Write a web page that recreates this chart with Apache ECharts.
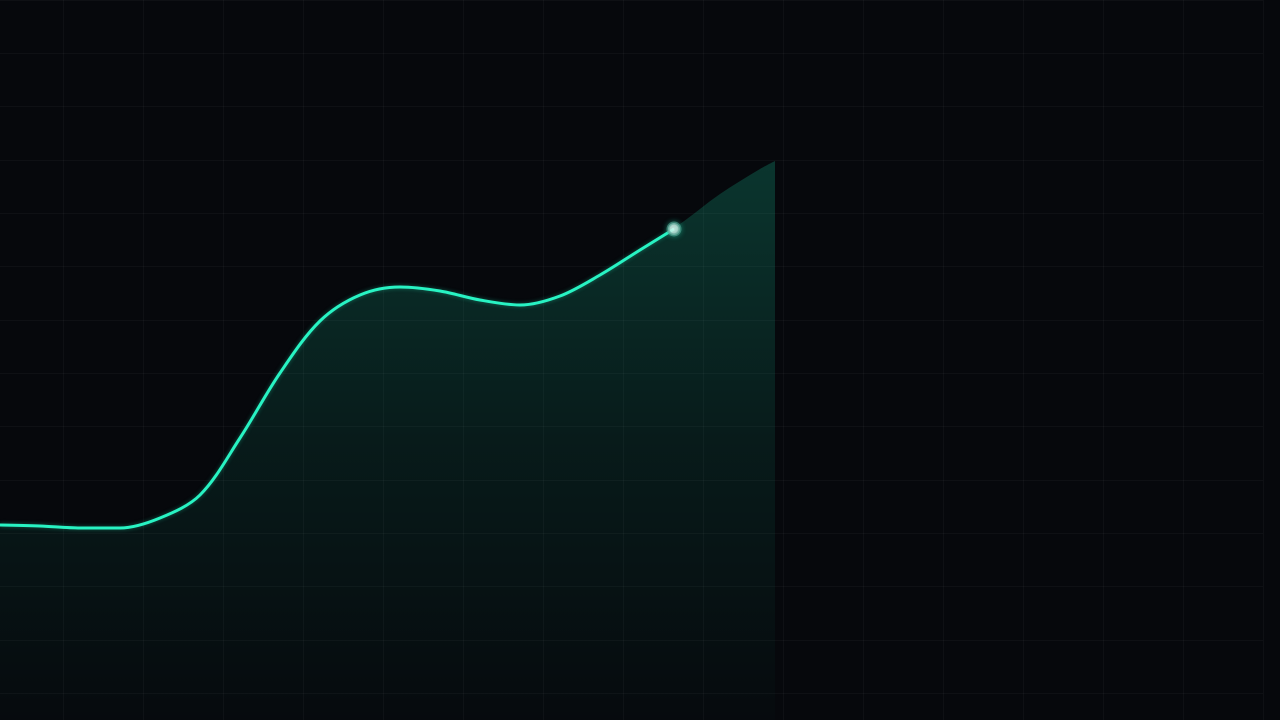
<!DOCTYPE html>
<html>
<head>
<meta charset="utf-8">
<script src="https://cdn.jsdelivr.net/npm/echarts@6/dist/echarts.min.js"></script>
<style>
html,body{margin:0;padding:0;background:#06080c;overflow:hidden;width:1280px;height:720px;}
#chart{position:absolute;left:-17px;top:0;width:1297px;height:747px;}
</style>
</head>
<body>
<div id="chart"></div>
<script>
// Curve samples (x in tenths of the time span, y in value units)
const xValues = [0, 4, 8, 12, 16, 20, 24, 28, 32, 36, 40, 44, 48, 52, 56, 60, 64, 68, 72, 76, 77.5];
const yValues = [19.5, 19.4, 19.2, 19.2, 20.2, 22.5, 28.2, 34.7, 39.9, 42.5, 43.3, 42.9, 42.0, 41.5, 42.4, 44.5, 47.0, 49.6, 52.6, 55.1, 55.9];
// head of the drawn line
const headX = 67.4;
const headY = 49.1;

const areaData = xValues.map((x, i) => [x, yValues[i]]);
const lineData = areaData.filter(p => p[0] < headX).concat([[headX, headY]]);
const headPoint = [[headX, headY]];

const chart = echarts.init(document.getElementById('chart'), null, {renderer: 'canvas', devicePixelRatio: 2});
const hidden = {show: false};
const gridLine = {show: true, lineStyle: {color: 'rgba(255,255,255,0.035)', width: 1}};
chart.setOption({
  animation: false,
  backgroundColor: '#06080c',
  grid: [
    {left: 0, top: 0, width: 1280, height: 746.67, containLabel: false},
    {left: 17, top: 0, width: 1280, height: 720, containLabel: false}
  ],
  xAxis: [
    {type: 'value', gridIndex: 0, min: 0, max: 16, interval: 1,
     axisLine: hidden, axisTick: hidden, axisLabel: hidden, splitLine: gridLine},
    {type: 'value', gridIndex: 1, min: 0, max: 128,
     axisLine: hidden, axisTick: hidden, axisLabel: hidden, splitLine: hidden}
  ],
  yAxis: [
    {type: 'value', gridIndex: 0, min: 0, max: 14, interval: 1,
     axisLine: hidden, axisTick: hidden, axisLabel: hidden, splitLine: gridLine},
    {type: 'value', gridIndex: 1, min: 0, max: 72,
     axisLine: hidden, axisTick: hidden, axisLabel: hidden, splitLine: hidden}
  ],
  series: [
    {
      type: 'line', xAxisIndex: 1, yAxisIndex: 1,
      data: areaData, smooth: 0.33, symbol: 'none',
      lineStyle: {width: 0, opacity: 0},
      areaStyle: {
        color: new echarts.graphic.LinearGradient(0, 0, 0, 1, [
          {offset: 0, color: 'rgba(30,233,182,0.29)'},
          {offset: 0.5, color: 'rgba(30,233,182,0.12)'},
          {offset: 1, color: 'rgba(30,233,182,0.015)'}
        ])
      },
      silent: true, z: 1
    },
    {
      type: 'line', xAxisIndex: 1, yAxisIndex: 1,
      data: lineData, smooth: 0.33, symbol: 'none',
      lineStyle: {width: 3, color: '#28f3c3', shadowBlur: 4, shadowColor: 'rgba(36,240,192,0.35)'},
      silent: true, z: 3
    },
    {
      type: 'scatter', xAxisIndex: 1, yAxisIndex: 1,
      data: headPoint, symbolSize: 12,
      itemStyle: {
        color: new echarts.graphic.RadialGradient(0.45, 0.45, 0.6, [
          {offset: 0, color: '#ffffff'},
          {offset: 0.45, color: '#e8eeec'},
          {offset: 1, color: '#7f8f8b'}
        ]),
        borderColor: 'rgba(85,165,148,0.75)',
        borderWidth: 3,
        shadowBlur: 6,
        shadowColor: 'rgba(36,240,192,0.5)'
      },
      silent: true, z: 5
    }
  ]
});
</script>
</body>
</html>
